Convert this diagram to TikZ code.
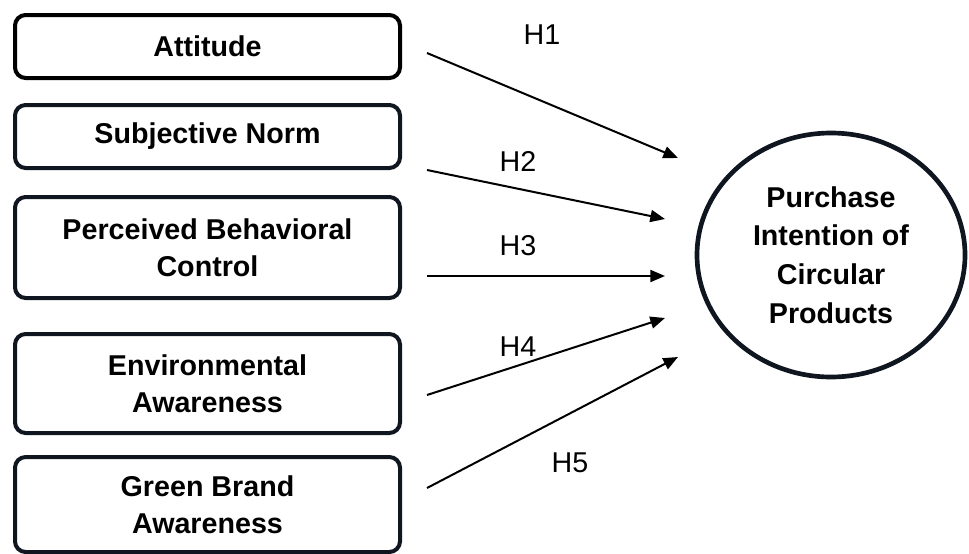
\documentclass[tikz,border=0pt]{standalone}
\usepackage{fontspec}
\setmainfont{Liberation Sans}
\usetikzlibrary{arrows.meta,shapes.geometric}
\definecolor{edge}{HTML}{0F1620}
\begin{document}
\begin{tikzpicture}[x=0.75pt,y=-0.75pt,
  box/.style={draw=edge, line width=3pt, rounded corners=8pt, align=center, inner sep=0pt,
    minimum width=288.75pt, font=\fontsize{21.5}{27.5}\selectfont\bfseries},
  goal/.style={draw=edge, line width=3.5pt, ellipse, align=center, inner sep=0pt,
    minimum width=201pt, minimum height=183pt, font=\fontsize{21.5}{29}\selectfont\bfseries},
  hyp/.style={-{Triangle[length=11pt,width=9pt]}, line width=1.5pt, black},
  hlab/.style={font=\fontsize{21.5}{26}\selectfont, inner sep=0pt}]
\useasboundingbox (0,0) rectangle (969,553);
\node[box, draw=black, minimum height=47.25pt] (att) at (207.5,46.5) {Attitude};
\node[box, minimum height=47.25pt] (sn) at (207.5,136.5) {Subjective Norm};
\node[box, minimum height=75.75pt] (pbc) at (207.5,247.5) {Perceived Behavioral\\Control};
\node[box, minimum height=74.25pt] (ea) at (207.5,383.5) {Environmental\\Awareness};
\node[box, minimum height=71.25pt] (gba) at (207.5,504.5) {Green Brand\\Awareness};
\node[goal] (pi) at (831,255) {Purchase\\Intention of\\Circular\\Products};
\coordinate (s1) at (427,53);  \coordinate (t1) at (678,158);
\coordinate (s2) at (427,170); \coordinate (t2) at (665,219);
\coordinate (s3) at (427,276); \coordinate (t3) at (665,276);
\coordinate (s4) at (427,395); \coordinate (t4) at (665,318);
\coordinate (s5) at (427,488); \coordinate (t5) at (678,357);
\draw[hyp] (s1) -- (t1);
\draw[hyp] (s2) -- (t2);
\draw[hyp] (s3) -- (t3);
\draw[hyp] (s4) -- (t4);
\draw[hyp] (s5) -- (t5);
\node[hlab] (h1) at (542,35) {H1};
\node[hlab] (h2) at (518,161) {H2};
\node[hlab] (h3) at (518,246) {H3};
\node[hlab] (h4) at (518,347) {H4};
\node[hlab] (h5) at (570,463) {H5};
\end{tikzpicture}
\end{document}
